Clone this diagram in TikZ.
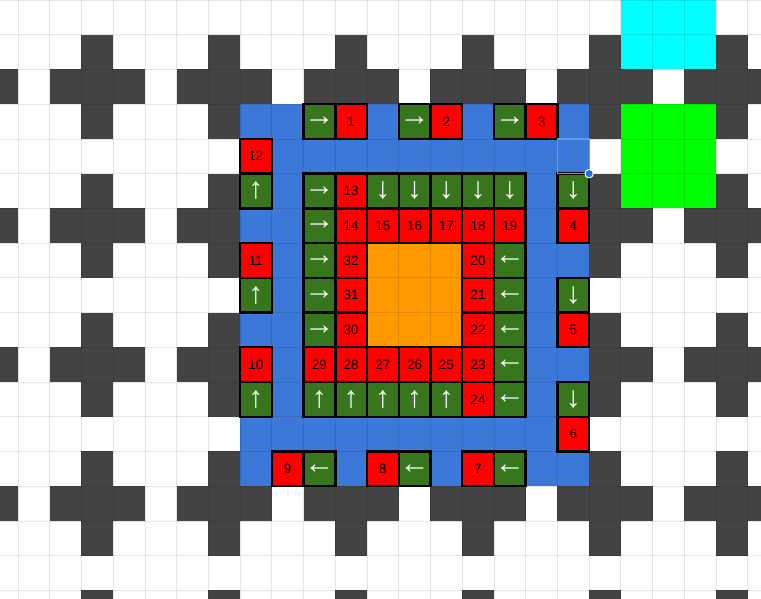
\documentclass[tikz,border=0pt]{standalone}
\usepackage{fontspec}
\setmainfont{Liberation Sans}
\definecolor{dk}{HTML}{434343}
\definecolor{bl}{HTML}{3C78D8}
\definecolor{gr}{HTML}{38761D}
\definecolor{og}{HTML}{FF9900}
\definecolor{cy}{HTML}{00FFFF}
\definecolor{lg}{HTML}{00FF00}
\definecolor{sel}{HTML}{1A73E8}
\definecolor{rd}{HTML}{FF0000}
\begin{document}
\begin{tikzpicture}[x=31.73pt,y=-34.73pt,
  cellbox/.style={draw=black, line width=2.4pt, minimum width=31.73pt, minimum height=34.73pt, inner sep=0pt, anchor=center},
  redcell/.style={cellbox, fill=rd, text=black, font=\fontsize{13.5pt}{13.5pt}\selectfont},
  greencell/.style={cellbox, fill=gr, text=white, font=\fontsize{30pt}{30pt}\selectfont},
  gridline/.style={black, opacity=0.1, line width=0.8pt}]
\useasboundingbox (-0.5673,0) rectangle (23.4163,17.2474);
\clip (-0.5673,0) rectangle (23.4163,17.2474);
\fill[white] (-0.5673,0) rectangle (23.4163,17.2474);
% dark crosses
\foreach \cx in {-2,2,6,10,14,18,22,26}{
  \foreach \cy in {-2,2,6,10,14,18}{
    \fill[dk] (\cx-1,\cy) rectangle (\cx+2,\cy+1);
    \fill[dk] (\cx,\cy-1) rectangle (\cx+1,\cy+2);
  }
}
% coloured areas
\fill[cy] (19,-1) rectangle (22,2);
\fill[lg] (19,3) rectangle (22,6);
\fill[bl] (7,3) rectangle (18,14);
\fill[og] (11,7) rectangle (14,10);
% grid lines
\foreach \c in {-1,...,24}{ \draw[gridline] (\c,-1) -- (\c,18); }
\foreach \r in {0,...,18}{ \draw[gridline] (-1,\r) -- (24,\r); }
% red numbered cells
\foreach \c/\r/\l in {10/3/1,13/3/2,16/3/3,17/6/4,17/9/5,17/12/6,14/13/7,11/13/8,8/13/9,7/10/10,7/7/11,7/4/12,10/5/13,10/6/14,11/6/15,12/6/16,13/6/17,14/6/18,15/6/19,14/7/20,14/8/21,14/9/22,14/10/23,14/11/24,13/10/25,12/10/26,11/10/27,10/10/28,9/10/29,10/9/30,10/8/31,10/7/32}{
  \node[redcell] (n\l) at (\c+0.5,\r+0.5) {\l};
}
% green arrow cells
\foreach \c/\r in {9/3,12/3,15/3,9/5,9/6,9/7,9/8,9/9}{
  \node[greencell] (e\c-\r) at (\c+0.5,\r+0.5) {→};
}
\foreach \c/\r in {11/5,12/5,13/5,14/5,15/5,17/5,17/8,17/11}{
  \node[greencell] (s\c-\r) at (\c+0.5,\r+0.5) {↓};
}
\foreach \c/\r in {7/5,7/8,7/11,9/11,10/11,11/11,12/11,13/11}{
  \node[greencell] (u\c-\r) at (\c+0.5,\r+0.5) {↑};
}
\foreach \c/\r in {15/7,15/8,15/9,15/10,15/11,9/13,12/13,15/13}{
  \node[greencell] (w\c-\r) at (\c+0.5,\r+0.5) {←};
}
% selection
\draw[sel!70, line width=1.2pt] (17,4) rectangle (18,5);
\coordinate (handle) at (18,5);
\fill[sel, draw=white, line width=1pt] (handle) circle (4.2pt);
\end{tikzpicture}
\end{document}
